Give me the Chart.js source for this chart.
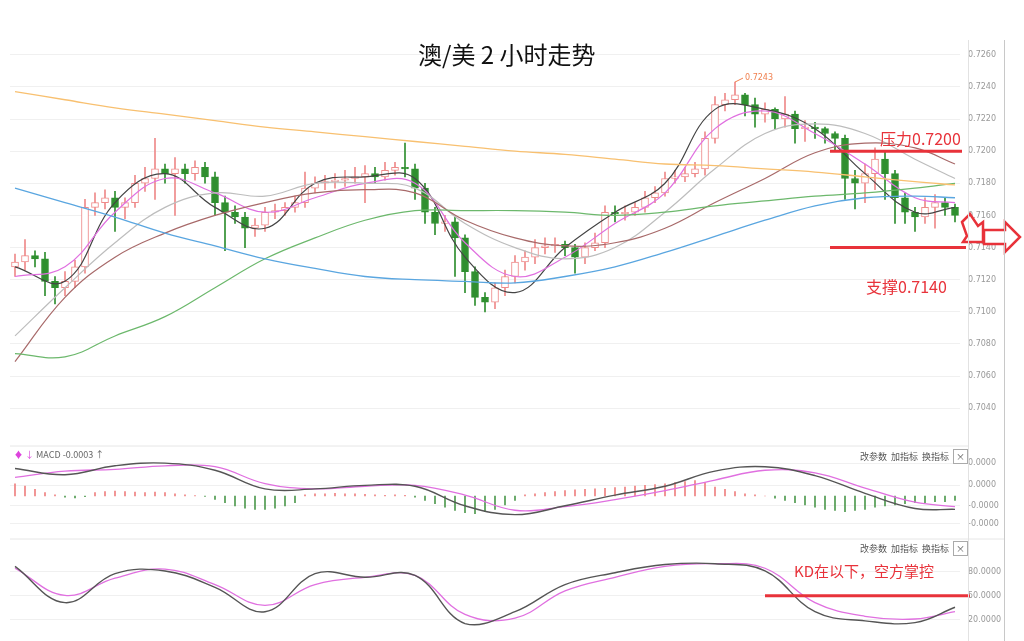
<!DOCTYPE html>
<html><head><meta charset="utf-8">
<script src="https://cdn.jsdelivr.net/npm/chart.js@4"></script>
<style>
body{margin:0;width:1024px;height:641px;background:#fff;font-family:"Noto Sans CJK SC","Noto Sans",sans-serif;overflow:hidden;position:relative}
canvas{position:absolute;left:0}
.t{position:absolute;white-space:nowrap}
.hd{font-size:9px;color:#555}
</style></head><body>
<canvas id="c1" style="top:0" width="1024" height="440"></canvas>
<canvas id="c2" style="top:440px" width="1024" height="100"></canvas>
<canvas id="c3" style="top:540px" width="1024" height="101"></canvas>
<div style="position:absolute;left:968px;top:40px;width:1px;height:601px;background:#e2e2e2"></div>
<div style="position:absolute;left:1004px;top:40px;width:1px;height:601px;background:#c8c8c8"></div>
<div class="t" style="left:418px;top:36px;font-size:24px;color:#111">澳/美 2 小时走势</div>
<div class="t hd" style="left:14px;top:448px;color:#666"><span style="color:#d4d">♦ ↓</span> MACD -0.0003 ↑</div>
<div class="t hd" style="left:860px;top:450px">改参数 &nbsp;加指标 &nbsp;换指标 &nbsp;<span style="border:1px solid #aaa;padding:0 2px">×</span></div>
<div class="t hd" style="left:860px;top:542px">改参数 &nbsp;加指标 &nbsp;换指标 &nbsp;<span style="border:1px solid #aaa;padding:0 2px">×</span></div>
<div class="t" style="left:794px;top:560px;font-size:15px;color:#e8323a">KD在以下，空方掌控</div>
<div class="t" style="left:880px;top:126px;font-size:16px;color:#e8323a">压力0.7200</div>
<div class="t" style="left:866px;top:274px;font-size:16px;color:#e8323a">支撑0.7140</div>
<script>
const closes=[0.7131,0.7135,0.7133,0.7119,0.7115,0.7119,0.7128,0.7165,0.7168,0.7171,
0.7165,0.7168,0.7180,0.7183,0.7189,0.7186,0.7189,0.7186,0.7190,0.7184,
0.7168,0.7162,0.7159,0.7152,0.7154,0.7162,0.7163,0.7165,0.7168,0.7177,
0.7180,0.7181,0.7182,0.7183,0.7184,0.7186,0.7184,0.7188,0.7190,0.7189,
0.7177,0.7162,0.7155,0.7156,0.7146,0.7125,0.7109,0.7106,0.7115,0.7122,
0.7131,0.7134,0.7140,0.7141,0.7142,0.7140,0.7134,0.7140,0.7143,0.7162,
0.7161,0.7162,0.7165,0.7171,0.7174,0.7183,0.7184,0.7186,0.7189,0.7208,
0.7229,0.7232,0.7235,0.7229,0.7223,0.7226,0.7220,0.7223,0.7214,0.7215,
0.7214,0.7211,0.7208,0.7183,0.7180,0.7186,0.7195,0.7186,0.7171,0.7162,
0.7159,0.7165,0.7168,0.7165,0.7160];
const opens=[0.7128,0.7131,0.7135,0.7133,0.7119,0.7115,0.7119,0.7128,0.7165,0.7168,
0.7171,0.7165,0.7168,0.7180,0.7183,0.7189,0.7186,0.7189,0.7186,0.7190,
0.7184,0.7168,0.7162,0.7159,0.7152,0.7154,0.7162,0.7163,0.7165,0.7168,
0.7177,0.7180,0.7181,0.7182,0.7183,0.7184,0.7186,0.7184,0.7188,0.7190,
0.7189,0.7177,0.7162,0.7155,0.7156,0.7146,0.7125,0.7109,0.7106,0.7115,
0.7122,0.7131,0.7134,0.7140,0.7141,0.7142,0.7140,0.7134,0.7140,0.7143,
0.7162,0.7161,0.7162,0.7165,0.7171,0.7174,0.7183,0.7184,0.7186,0.7189,
0.7208,0.7229,0.7232,0.7235,0.7229,0.7223,0.7226,0.7220,0.7223,0.7214,
0.7215,0.7214,0.7211,0.7208,0.7183,0.7180,0.7186,0.7195,0.7186,0.7171,
0.7162,0.7159,0.7165,0.7168,0.7165];
const highs=[0.7136,0.7145,0.7138,0.7137,0.7122,0.7125,0.7132,0.7170,0.7174,0.7176,
0.7175,0.7171,0.7185,0.7190,0.7208,0.7192,0.7196,0.7192,0.7194,0.7193,
0.7187,0.7172,0.7166,0.7162,0.7158,0.7165,0.7167,0.7168,0.7172,0.7187,
0.7184,0.7185,0.7186,0.7188,0.7190,0.7191,0.7190,0.7193,0.7193,0.7205,
0.7192,0.7180,0.7165,0.7160,0.7159,0.7148,0.7128,0.7112,0.7118,0.7126,
0.7135,0.7138,0.7145,0.7146,0.7146,0.7144,0.7142,0.7143,0.7149,0.7166,
0.7166,0.7166,0.7168,0.7175,0.7178,0.7187,0.7188,0.7190,0.7193,0.7212,
0.7234,0.7236,0.7243,0.7236,0.7233,0.7230,0.7227,0.7234,0.7225,0.7219,
0.7218,0.7215,0.7212,0.7210,0.7188,0.7192,0.7202,0.7200,0.7188,0.7174,
0.7165,0.7171,0.7173,0.7171,0.7167];
const lows=[0.7122,0.7126,0.7128,0.7110,0.7105,0.7110,0.7115,0.7124,0.7160,0.7164,
0.7150,0.7158,0.7165,0.7175,0.7170,0.7180,0.7160,0.7180,0.7182,0.7180,
0.7160,0.7138,0.7155,0.7140,0.7147,0.7150,0.7158,0.7160,0.7162,0.7165,
0.7174,0.7176,0.7177,0.7178,0.7180,0.7168,0.7180,0.7182,0.7185,0.7184,
0.7170,0.7155,0.7148,0.7150,0.7122,0.7112,0.7104,0.7100,0.7102,0.7110,
0.7118,0.7126,0.7130,0.7136,0.7137,0.7135,0.7124,0.7130,0.7138,0.7140,
0.7156,0.7157,0.7160,0.7162,0.7168,0.7172,0.7180,0.7181,0.7184,0.7185,
0.7205,0.7225,0.7229,0.7222,0.7215,0.7218,0.7214,0.7215,0.7205,0.7206,
0.7208,0.7205,0.7200,0.7170,0.7164,0.7168,0.7176,0.7170,0.7155,0.7155,
0.7150,0.7155,0.7152,0.7160,0.7156];
// moving averages, sampled every 5 candles (last = final candle)
const maOrange=[0.7237,0.7232,0.7227,0.7223,0.7219,0.7215,0.7212,0.7209,0.7206,0.7203,0.7200,0.7198,0.7195,0.7192,0.7191,0.7189,0.7187,0.7184,0.7181,0.7179];
const maBlue=[0.7177,0.7168,0.7159,0.7149,0.7141,0.7133,0.7127,0.7122,0.7120,0.7119,0.7118,0.7122,0.7128,0.7137,0.7147,0.7157,0.7166,0.7171,0.7172,0.7171];
const maGreen=[0.7074,0.7072,0.7085,0.7097,0.7115,0.7133,0.7146,0.7157,0.7163,0.7163,0.7163,0.7162,0.7160,0.7162,0.7166,0.7169,0.7172,0.7174,0.7177,0.7180];
const maBrown=[0.7069,0.7109,0.7134,0.7149,0.7160,0.7168,0.7174,0.7176,0.7174,0.7157,0.7146,0.7141,0.7143,0.7152,0.7168,0.7183,0.7199,0.7205,0.7202,0.7192];
const maGrey=[0.7085,0.7115,0.7143,0.7165,0.7174,0.7172,0.7180,0.7180,0.7177,0.7155,0.7140,0.7133,0.7140,0.7162,0.7189,0.7211,0.7217,0.7211,0.7195,0.7183];
const maPink=[0.7122,0.7128,0.7162,0.7183,0.7174,0.7162,0.7171,0.7180,0.7180,0.7143,0.7122,0.7134,0.7155,0.7174,0.7214,0.7225,0.7211,0.7192,0.7171,0.7168];
const maBlack=[0.7128,0.7119,0.7168,0.7186,0.7165,0.7152,0.7180,0.7184,0.7183,0.7134,0.7112,0.7140,0.7162,0.7180,0.7226,0.7226,0.7214,0.7186,0.7162,0.7165];
const priceTicks=[0.7260,0.7240,0.7220,0.7200,0.7180,0.7160,0.7140,0.7120,0.7100,0.7080,0.7060,0.7040];
const macdDif=[0.00124,0.00096,0.00136,0.00148,0.00116,0.00032,0.00032,0.00048,0.00044,-0.00044,-0.00084,-0.00044,0.00004,0.00044,0.00112,0.00132,0.00092,0.00012,-0.00056,-0.0006];
const macdDea=[0.00084,0.00112,0.0012,0.00136,0.00132,0.00056,0.00032,0.00044,0.00048,0.00004,-0.00064,-0.00048,-0.00016,0.00024,0.00072,0.00116,0.00104,0.00036,-0.00028,-0.00048];
const macdHist=[5.5,4.5,3,1.5,0.5,-0.5,-0.8,-0.3,1.5,2,2.2,2,1.8,1.5,1.8,1.5,1,0.5,0.2,-0.2,
-1.5,-3,-4.5,-5.5,-6,-6,-5.5,-4.5,-3,0.5,1,1,1.2,1,1,0.8,0.5,0.3,0.5,0.3,-0.5,
-2,-3.5,-5,-6.5,-7.5,-8,-7,-6,-4,-2,0.5,1,1.5,2,2.5,2.8,3,3.2,3.5,3.8,4,4.5,4.8,5.2,5.5,6,6.5,7,
6,4,3,2,1,0.5,0,-1,-2,-3,-4,-5,-6,-6.5,-7,-6.5,-6,-5,-4.5,-4,-3.5,-3,-3,-2.5,-2.5,-2];
const macdTicks=[0.00148,0.00048,-0.00044,-0.00124];
const macdTickLabels=["0.0000","0.0000","-0.0000","-0.0000"];
const kdK=[86.8,41.5,77.7,81.1,60.7,30.2,77.7,73.2,75.5,15.4,30.2,64.1,78.9,89.1,90.2,81.1,30.2,18.8,16.6,35.8];
const kdD=[84.5,50.6,72.1,83.4,64.1,38.1,64.1,73.2,75.5,26.8,22.2,56.2,73.2,86.8,90.2,84.5,41.5,24.5,21.1,30.2];
const kdTicks=[80,50,20];

const N=closes.length;
const labels=closes.map((_,i)=>i);
const RED='#ee8a8a',GREEN='#2f8f2f';
const up=closes.map((c,i)=>c>=opens[i]);
function sparse(a){const r=new Array(N).fill(null);a.forEach((v,k)=>{r[k===a.length-1?N-1:k*5]=v});return r;}
function line(a,color,w){return {type:'line',data:sparse(a),borderColor:color,borderWidth:w||1.2,pointRadius:0,tension:0.4,spanGaps:true,order:0};}
const xHidden={display:false,offset:true,grid:{display:false}};
const fit=s=>{s.width=64};
const tickFont={size:8,family:'DejaVu Sans'};
Chart.defaults.animation=false;
Chart.defaults.responsive=false;
Chart.defaults.plugins.legend.display=false;
Chart.defaults.plugins.tooltip.enabled=false;

const ann={id:'ann',afterDraw(ch){const c=ch.ctx,y=ch.scales.y,x=ch.scales.x;c.save();
 c.strokeStyle='#e8323a';c.lineWidth=3;
 c.beginPath();c.moveTo(830,y.getPixelForValue(0.7200));c.lineTo(962,y.getPixelForValue(0.7200));c.stroke();
 c.beginPath();c.moveTo(830,y.getPixelForValue(0.7140));c.lineTo(966,y.getPixelForValue(0.7140));c.stroke();
 const mx=x.getPixelForValue(72),my=y.getPixelForValue(0.7243);
 c.lineWidth=1;c.strokeStyle='#f08050';c.beginPath();c.moveTo(mx,my);c.lineTo(mx+8,my-4);c.stroke();
 c.fillStyle='#f08050';c.font='8px DejaVu Sans';c.fillText('0.7243',mx+10,my-2);
 c.strokeStyle='#e8323a';c.lineWidth=2.5;c.fillStyle='#fff';
 c.beginPath();[[962,222],[970,214],[978,226],[983,222],[983,242],[963,242],[967,236]].forEach((p,i)=>i?c.lineTo(p[0],p[1]):c.moveTo(p[0],p[1]));c.closePath();c.fill();c.stroke();
 c.beginPath();[[984,230],[1005,230],[1005,222],[1020,237],[1005,252],[1005,244],[984,244]].forEach((p,i)=>i?c.lineTo(p[0],p[1]):c.moveTo(p[0],p[1]));c.closePath();c.fill();c.stroke();
 c.restore();}};

new Chart(document.getElementById('c1'),{data:{labels,datasets:[
 {type:'bar',data:labels.map(i=>[lows[i],highs[i]]),backgroundColor:up.map(u=>u?RED:GREEN),barThickness:1,grouped:false,order:2},
 {type:'bar',data:labels.map(i=>[opens[i],closes[i]]),backgroundColor:up.map(u=>u?'#fff':GREEN),borderColor:up.map(u=>u?RED:GREEN),borderWidth:1,borderSkipped:false,barThickness:7,minBarLength:1,grouped:false,order:1},
 line(maOrange,'#f8c070',1.3),line(maBlue,'#5aa6e0',1.3),line(maGreen,'#6cb86c',1.2),line(maBrown,'#a86a6a',1.2),line(maGrey,'#bdbdbd',1.2),line(maPink,'#e070e0',1.2),line(maBlack,'#444',1.2)
]},options:{layout:{padding:{top:39,bottom:4,left:10}},scales:{x:xHidden,
 y:{position:'right',min:0.70282,max:0.72698,afterFit:fit,afterBuildTicks:s=>{s.ticks=priceTicks.map(v=>({value:v}))},
  ticks:{font:tickFont,color:'#999',padding:8,callback:v=>v.toFixed(4)},grid:{color:'#f0f0f0',drawTicks:false},border:{display:false}}}},plugins:[ann]});

new Chart(document.getElementById('c2'),{data:{labels,datasets:[
 {type:'bar',data:macdHist.map(v=>v*0.0001),backgroundColor:macdHist.map(v=>v>=0?'#ee8080':'#4f9a4f'),barThickness:1,order:2},
 line(macdDif,'#555',1.4),line(macdDea,'#e070e0',1.3)
]},options:{layout:{padding:{top:10,bottom:0,left:10}},scales:{x:xHidden,
 y:{position:'right',min:-0.001404,max:0.001946,afterFit:fit,afterBuildTicks:s=>{s.ticks=macdTicks.map(v=>({value:v}))},
  ticks:{font:tickFont,color:'#999',padding:8,callback:(v,i)=>macdTickLabels[i]},grid:{color:'#f0f0f0',drawTicks:false},border:{display:false}}}},
 plugins:[{id:'sep',afterDraw(ch){const c=ch.ctx;c.save();c.strokeStyle='#e6e6e6';c.beginPath();c.moveTo(10,6);c.lineTo(968,6);c.moveTo(10,99);c.lineTo(1004,99);c.stroke();c.restore();}}]});

new Chart(document.getElementById('c3'),{data:{labels,datasets:[
 line(kdK,'#555',1.4),line(kdD,'#e070e0',1.3)
]},options:{layout:{padding:{top:5,bottom:9,left:10}},scales:{x:xHidden,
 y:{position:'right',min:9.6,max:103.8,afterFit:fit,afterBuildTicks:s=>{s.ticks=kdTicks.map(v=>({value:v}))},
  ticks:{font:tickFont,color:'#999',padding:8,callback:v=>v.toFixed(4)},grid:{color:'#f0f0f0',drawTicks:false},border:{display:false}}}},
 plugins:[{id:'kd',afterDraw(ch){const c=ch.ctx,y=ch.scales.y;c.save();c.strokeStyle='#e8323a';c.lineWidth=3;c.beginPath();c.moveTo(765,y.getPixelForValue(50));c.lineTo(970,y.getPixelForValue(50));c.stroke();c.restore();}}]});
</script></body></html>
